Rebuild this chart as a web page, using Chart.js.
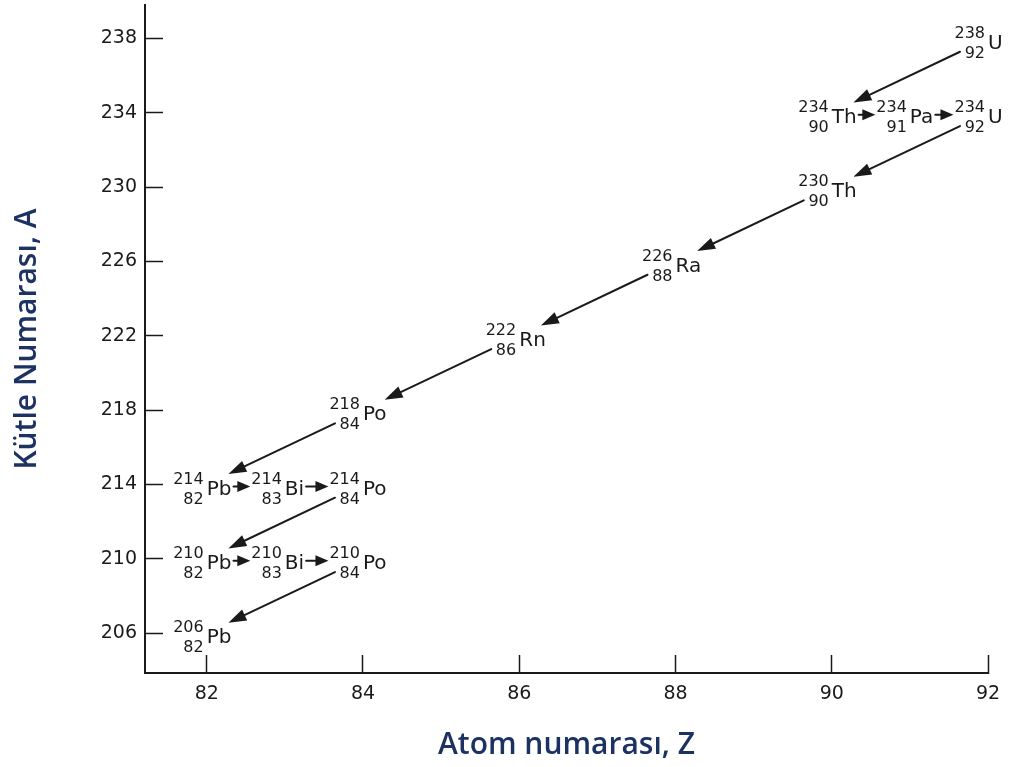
<!DOCTYPE html>
<html>
<head>
<meta charset="utf-8">
<script src="https://cdn.jsdelivr.net/npm/chart.js@4.4.1/dist/chart.umd.min.js"></script>
<style>
  html, body { margin: 0; padding: 0; background: #fff; }
  #wrap { width: 1021px; height: 767px; }
</style>
</head>
<body>
<div id="wrap"><canvas id="decayChart" width="1021" height="767"></canvas></div>
<script>
// U-238 decay chain, in decay order (each item decays into the next one)
const atomicNumbers = [92, 90, 91, 92, 90, 88, 86, 84, 82, 83, 84, 82, 83, 84, 82];
const massNumbers = [238, 234, 234, 234, 230, 226, 222, 218, 214, 214, 214, 210, 210, 210, 206];
const symbols = ['U', 'Th', 'Pa', 'U', 'Th', 'Ra', 'Rn', 'Po', 'Pb', 'Bi', 'Po', 'Pb', 'Bi', 'Po', 'Pb'];
const xTicks = [82, 84, 86, 88, 90, 92];
const yTicks = [206, 210, 214, 218, 222, 226, 230, 234, 238];

const ink = '#1a1a1a';
const titleColor = '#1c3263';
const plotFont = '"DejaVu Sans", sans-serif';

function drawArrow(ctx, x0, y0, x1, y1, headLen, headW) {
    const len = Math.hypot(x1 - x0, y1 - y0);
    if (len < 1) return;
    const ux = (x1 - x0) / len, uy = (y1 - y0) / len;
    ctx.beginPath();
    ctx.moveTo(x0, y0);
    ctx.lineTo(x1 - ux * headLen * 0.6, y1 - uy * headLen * 0.6);
    ctx.stroke();
    ctx.beginPath();
    ctx.moveTo(x1, y1);
    ctx.lineTo(x1 - ux * headLen - uy * headW / 2, y1 - uy * headLen + ux * headW / 2);
    ctx.lineTo(x1 - ux * headLen + uy * headW / 2, y1 - uy * headLen - ux * headW / 2);
    ctx.closePath();
    ctx.fill();
}

const decayPlugin = {
    id: 'decayChain',
    afterDatasetsDraw(chart) {
        const ctx = chart.ctx;
        const pts = chart.getDatasetMeta(0).data;
        ctx.save();
        ctx.strokeStyle = ink;
        ctx.fillStyle = ink;
        ctx.lineWidth = 2;
        ctx.lineCap = 'round';

        // arrows between consecutive members of the chain
        for (let i = 0; i < pts.length - 1; i++) {
            const a = pts[i], b = pts[i + 1];
            if (massNumbers[i] === massNumbers[i + 1]) {
                // beta decay: short horizontal arrow from symbol to next label
                ctx.font = '20px ' + plotFont;
                const x0 = a.x + ctx.measureText(symbols[i]).width + 2;
                ctx.font = '16px ' + plotFont;
                const x1 = b.x - 3 - ctx.measureText(String(massNumbers[i + 1])).width - 1;
                drawArrow(ctx, x0, a.y + 2, x1, b.y + 2, 13, 11);
            } else {
                // alpha decay: diagonal arrow down-left
                const dx = b.x - a.x, dy = b.y - a.y;
                const len = Math.hypot(dx, dy);
                const ux = dx / len, uy = dy / len;
                drawArrow(ctx, a.x + ux * 31, a.y + uy * 31, b.x - ux * 24, b.y - uy * 24, 18, 12);
            }
        }

        // nuclide labels: mass number over atomic number, then element symbol
        pts.forEach((p, i) => {
            ctx.textBaseline = 'middle';
            ctx.textAlign = 'right';
            ctx.font = '16px ' + plotFont;
            ctx.fillText(String(massNumbers[i]), p.x - 3, p.y - 5);
            ctx.fillText(String(atomicNumbers[i]), p.x - 3, p.y + 15);
            ctx.textAlign = 'left';
            ctx.font = '20px ' + plotFont;
            ctx.fillText(symbols[i], p.x, p.y + 5);
        });
        ctx.restore();
    }
};

function noEdgePadding(s) {
    s.paddingTop = 0;
    s.paddingBottom = 0;
    s.paddingLeft = 0;
    s.paddingRight = 0;
}

new Chart(document.getElementById('decayChart'), {
    type: 'scatter',
    data: {
        datasets: [{
            data: atomicNumbers.map((z, i) => ({ x: z, y: massNumbers[i] })),
            pointRadius: 0,
            showLine: false
        }]
    },
    options: {
        responsive: false,
        animation: false,
        layout: { padding: { top: 5, right: 33, bottom: 0, left: 0 } },
        plugins: { legend: { display: false }, tooltip: { enabled: false } },
        scales: {
            x: {
                type: 'linear',
                min: 81.21,
                max: 92,
                afterBuildTicks: s => { s.ticks = xTicks.map(v => ({ value: v })); },
                afterFit: s => { s.height = 94; noEdgePadding(s); },
                grid: { drawOnChartArea: false, drawTicks: true, tickLength: -18, tickColor: ink, tickWidth: 1.5 },
                border: { display: true, color: ink, width: 2 },
                ticks: { padding: 28, color: ink, autoSkip: false, maxRotation: 0, font: { family: plotFont, size: 19 } },
                title: {
                    display: true, text: 'Atom numarası, Z', color: titleColor,
                    font: { family: '"Open Sans"', size: 30, weight: '600' }, padding: { top: 0, bottom: 4 }
                }
            },
            y: {
                type: 'linear',
                min: 203.85,
                max: 239.8,
                afterBuildTicks: s => { s.ticks = yTicks.map(v => ({ value: v })); },
                afterFit: s => { s.width = 145; noEdgePadding(s); },
                grid: { drawOnChartArea: false, drawTicks: true, tickLength: -18, tickColor: ink, tickWidth: 1.5 },
                border: { display: true, color: ink, width: 2 },
                ticks: { padding: 26, color: ink, autoSkip: false, font: { family: plotFont, size: 19 } },
                title: {
                    display: true, text: 'Kütle Numarası, A', color: titleColor,
                    font: { family: '"Open Sans"', size: 30, weight: '600' }, padding: { top: 9, bottom: 0 }
                }
            }
        }
    },
    plugins: [decayPlugin]
});
</script>
</body>
</html>
